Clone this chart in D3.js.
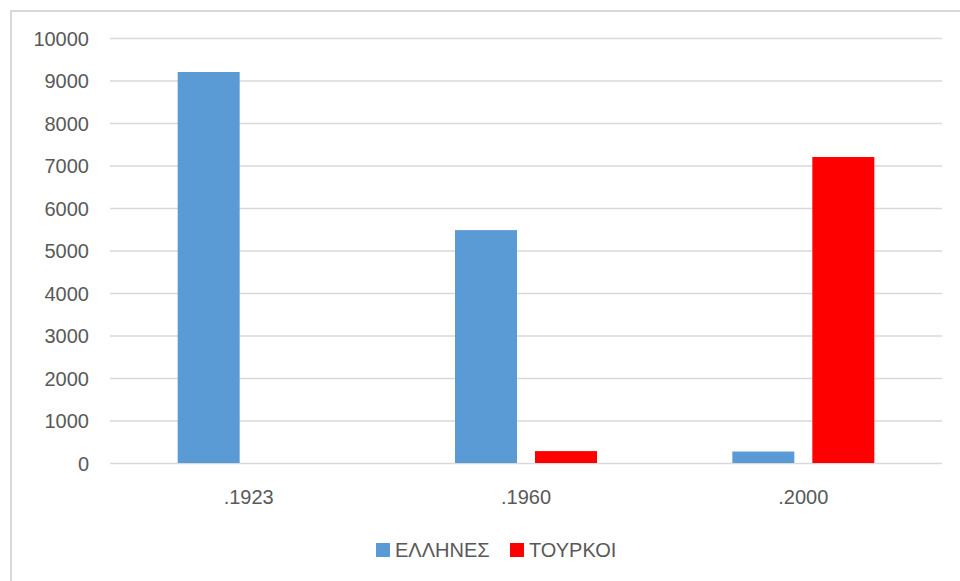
<!DOCTYPE html>
<head>
    <meta charset="utf-8">
    <script src="https://d3js.org/d3.v7.min.js" charset="utf-8"></script>
    <style>
    body { margin: 0; background: #fff; }
    svg { display: block; }
    text { font-family: "Liberation Sans", Arial, sans-serif; fill: #595959; }
    .grid line { stroke: #d9d9d9; stroke-width: 1.5; }
    </style>
</head>
<body>
<div id="chart"></div>
<script>
    var years = [".1923", ".1960", ".2000"];
    var seriesNames = ["ΕΛΛΗΝΕΣ", "ΤΟΥΡΚΟΙ"];
    var greeks = [9200, 5480, 270];
    var turks = [0, 280, 7200];
    var yTicks = [0, 1000, 2000, 3000, 4000, 5000, 6000, 7000, 8000, 9000, 10000];
    var colors = ["#5b9bd5", "#ff0000"];

    var width = 960, height = 581;
    var plotLeft = 110, plotRight = 942, plotTop = 38, plotBottom = 463;

    var svg = d3.select("#chart").append("svg")
        .attr("width", width)
        .attr("height", height);

    // chart frame (only top and left edges show in the picture)
    svg.append("path")
        .attr("d", "M11,581V11H960")
        .attr("fill", "none")
        .attr("stroke", "#d9d9d9")
        .attr("stroke-width", 2);

    var yScale = d3.scaleLinear()
        .domain([0, 10000])
        .range([plotBottom, plotTop]);

    var xScale = d3.scaleBand()
        .domain(years)
        .range([plotLeft, plotRight]);

    var inner = d3.scaleBand()
        .domain(seriesNames)
        .range([xScale.bandwidth() / 2 - 71, xScale.bandwidth() / 2 + 71])
        .paddingInner(0.225);

    // grid lines + y labels
    var yaxis = d3.axisLeft(yScale).tickValues(yTicks).tickSize(plotRight - plotLeft).tickFormat(d3.format("d"));
    var gy = svg.append("g")
        .attr("class", "grid")
        .attr("transform", "translate(" + plotRight + ",0)")
        .call(yaxis);
    gy.select(".domain").remove();
    gy.selectAll("text")
        .attr("x", -(plotRight - 89))
        .attr("dy", "0.35em")
        .style("font-size", "20px");

    // x labels
    var xaxis = d3.axisBottom(xScale).tickSize(0);
    var gx = svg.append("g")
        .attr("transform", "translate(0," + plotBottom + ")")
        .call(xaxis);
    gx.select(".domain").remove();
    gx.selectAll("text")
        .attr("y", 34)
        .attr("dy", "0.35em")
        .style("font-size", "20px");

    var series = [greeks, turks];
    series.forEach(function (values, s) {
        svg.append("g").selectAll("rect")
            .data(values)
            .enter().append("rect")
            .attr("x", function (d, i) { return xScale(years[i]) + inner(seriesNames[s]); })
            .attr("y", function (d) { return yScale(d); })
            .attr("width", inner.bandwidth())
            .attr("height", function (d) { return yScale(0) - yScale(d); })
            .attr("fill", colors[s]);
    });

    // legend
    var legendX = [376, 510];
    var legend = svg.append("g");
    seriesNames.forEach(function (name, s) {
        legend.append("rect")
            .attr("x", legendX[s])
            .attr("y", 543)
            .attr("width", 14)
            .attr("height", 14)
            .attr("fill", colors[s]);
        legend.append("text")
            .attr("x", legendX[s] + 19)
            .attr("y", 550)
            .attr("dy", "0.35em")
            .style("font-size", "20px")
            .text(name);
    });
</script>
</body>
